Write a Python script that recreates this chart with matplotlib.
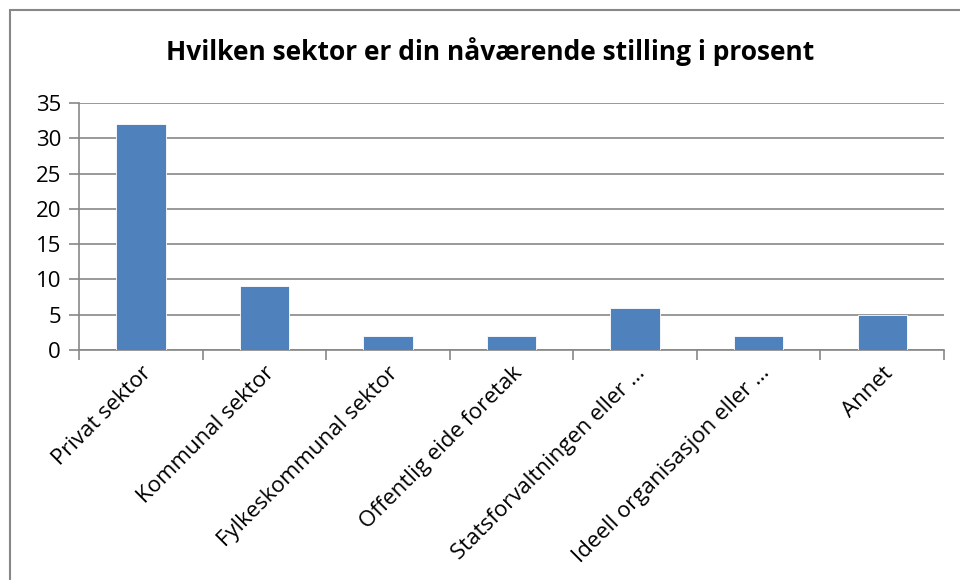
import matplotlib
matplotlib.use("Agg")
import matplotlib.pyplot as plt
from matplotlib.patches import Rectangle

categories = ["Privat sektor", "Kommunal sektor", "Fylkeskommunal sektor",
              "Offentlig eide foretak", "Statsforvaltningen eller …",
              "Ideell organisasjon eller …", "Annet"]
values = [32, 9, 2, 2, 6, 2, 5]
yticks = [0, 5, 10, 15, 20, 25, 30, 35]
title = "Hvilken sektor er din nåværende stilling i prosent"

plt.rcParams['font.family'] = ['Open Sans', 'DejaVu Sans']

W, H = 960, 580
fig = plt.figure(figsize=(W / 100, H / 100), dpi=100)
fig.patches.append(Rectangle((10 / W, -0.1), 1.2, 1 - 10 / H + 0.1,
                             transform=fig.transFigure, fill=False,
                             edgecolor='#878787', linewidth=1.5))

left, right, top, bottom = 79, 944, 103, 350
ax = fig.add_axes([left / W, 1 - bottom / H, (right - left) / W, (bottom - top) / H])

x = list(range(len(categories)))
ax.bar(x, values, width=0.4, color='#4F81BD', edgecolor='#ffffff', linewidth=0.6, zorder=3)
ax.set_xlim(-0.5, len(categories) - 0.5)
ax.set_ylim(0, 35)
ax.set_yticks(yticks)
ax.set_yticklabels([str(t) for t in yticks], fontsize=16)
ax.yaxis.grid(True, color='#878787', linewidth=1.2, zorder=0)
ax.set_axisbelow(True)

ax.set_xticks(x)
ax.set_xticklabels(categories, rotation=45, ha='right', rotation_mode='anchor', fontsize=16)
ax.tick_params(axis='x', length=0, pad=9)
ax.set_xticks([i - 0.5 for i in range(len(categories) + 1)], minor=True)
ax.tick_params(axis='x', which='minor', length=7, width=1.2, color='#878787', direction='out')
ax.tick_params(axis='y', length=7, width=1.2, color='#878787', pad=6)

for s in ['top', 'right']:
    ax.spines[s].set_visible(False)
for s in ['left', 'bottom']:
    ax.spines[s].set_color('#878787')
    ax.spines[s].set_linewidth(1.2)

fig.text(490 / W, 1 - 52 / H, title, ha='center', va='center',
         fontsize=19, fontweight='bold')

fig.savefig("out.png", dpi=100)
